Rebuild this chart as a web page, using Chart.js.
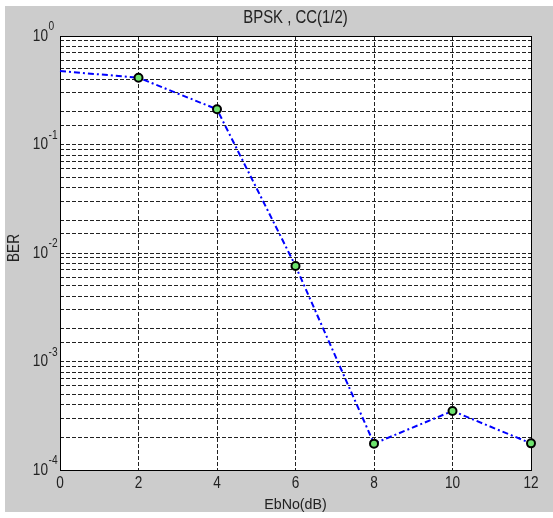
<!DOCTYPE html>
<html>
<head>
    <title>BPSK, CC(1/2)</title>
    <script src="https://cdn.jsdelivr.net/npm/chart.js"></script>
    <style>
        body { margin: 0; background: white; }
        #wrap { width: 553px; height: 518px; }
    </style>
</head>
<body>
    <div id="wrap"><canvas id="berChart" width="553" height="518"></canvas></div>
    <script>
        // values
        const ebno = [0, 2, 4, 6, 8, 10, 12];
        const ber = [0.475, 0.413, 0.211, 0.0076, 0.000175, 0.00035, 0.000176];
        const xTicks = [0, 2, 4, 6, 8, 10, 12];
        const yDecades = [0, -1, -2, -3, -4];

        const titleText = 'BPSK , CC(1/2)';
        const xTitle = 'EbNo(dB)';
        const yTitle = 'BER';

        function txt(ctx, s, x, y, font, sx, align) {
            ctx.save();
            ctx.translate(x, y);
            ctx.scale(sx, 1);
            ctx.font = font;
            ctx.textAlign = align;
            ctx.textBaseline = 'middle';
            ctx.fillText(s, 0, 0);
            ctx.restore();
        }

        const frame = {
            id: 'frame',
            beforeDraw(chart) {
                const ctx = chart.ctx, a = chart.chartArea;
                ctx.save();
                ctx.fillStyle = '#ffffff';
                ctx.fillRect(0, 0, chart.width, chart.height);
                ctx.fillStyle = '#cccccc';
                ctx.fillRect(5, 6, chart.width - 5, 506);
                ctx.fillStyle = '#ffffff';
                ctx.fillRect(a.left, a.top, a.right - a.left, a.bottom - a.top);
                ctx.restore();
            },
            beforeDatasetsDraw(chart) {
                const ctx = chart.ctx, a = chart.chartArea;
                ctx.save();
                ctx.strokeStyle = '#000';
                ctx.lineWidth = 1;
                ctx.strokeRect(a.left + 0.5, a.top + 0.5, a.right - a.left, a.bottom - a.top);
                ctx.restore();
            },
            afterDraw(chart) {
                const ctx = chart.ctx, a = chart.chartArea;
                const xs = chart.scales.x, ys = chart.scales.y;
                const f = 'Arial, "Liberation Sans", sans-serif';
                ctx.save();
                ctx.fillStyle = '#222';
                const cx = (a.left + a.right) / 2;
                txt(ctx, titleText, cx, 18, '18px ' + f, 0.83, 'center');
                xTicks.forEach(v => {
                    txt(ctx, String(v), xs.getPixelForValue(v), 484, '16px ' + f, 0.85, 'center');
                });
                txt(ctx, xTitle, cx, 505, '15px ' + f, 0.95, 'center');
                yDecades.forEach(e => {
                    const y = ys.getPixelForValue(Math.pow(10, e));
                    txt(ctx, '10', 48, y + 0.5, '16px ' + f, 0.85, 'right');
                    txt(ctx, String(e), 48.5, y - 9, '12px ' + f, 0.85, 'left');
                });
                ctx.translate(15, (a.top + a.bottom) / 2 - 5);
                ctx.rotate(-Math.PI / 2);
                ctx.scale(0.85, 1);
                ctx.font = '16px ' + f;
                ctx.textAlign = 'center';
                ctx.textBaseline = 'middle';
                ctx.fillText(yTitle, 0, 0);
                ctx.restore();
            }
        };

        const gridStyle = {
            color: '#222',
            lineWidth: 1,
            drawTicks: false
        };

        new Chart(document.getElementById('berChart'), {
            type: 'line',
            data: {
                labels: ebno,
                datasets: [{
                    data: ebno.map((x, i) => ({ x: x, y: ber[i] })),
                    borderColor: '#0000ff',
                    borderWidth: 2,
                    borderDash: [6, 3, 2, 3],
                    pointRadius: [0, 4, 4, 4, 4, 4, 4],
                    pointBackgroundColor: '#6ee36e',
                    pointBorderColor: '#000',
                    pointBorderWidth: 2,
                    tension: 0,
                    clip: false
                }]
            },
            options: {
                responsive: false,
                animation: false,
                events: [],
                layout: { padding: { top: 36, right: 22, left: 0, bottom: 0 } },
                plugins: { legend: { display: false }, tooltip: { enabled: false } },
                scales: {
                    x: {
                        type: 'linear',
                        min: 0,
                        max: 12,
                        ticks: { display: false, stepSize: 2 },
                        grid: gridStyle,
                        border: { display: false, dash: [4, 2] },
                        afterFit(s) { s.height = 48; }
                    },
                    y: {
                        type: 'logarithmic',
                        min: 0.0001,
                        max: 1,
                        ticks: { display: false },
                        grid: gridStyle,
                        border: { display: false, dash: [4, 2] },
                        afterFit(s) { s.width = 60; }
                    }
                }
            },
            plugins: [frame]
        });
    </script>
</body>
</html>
